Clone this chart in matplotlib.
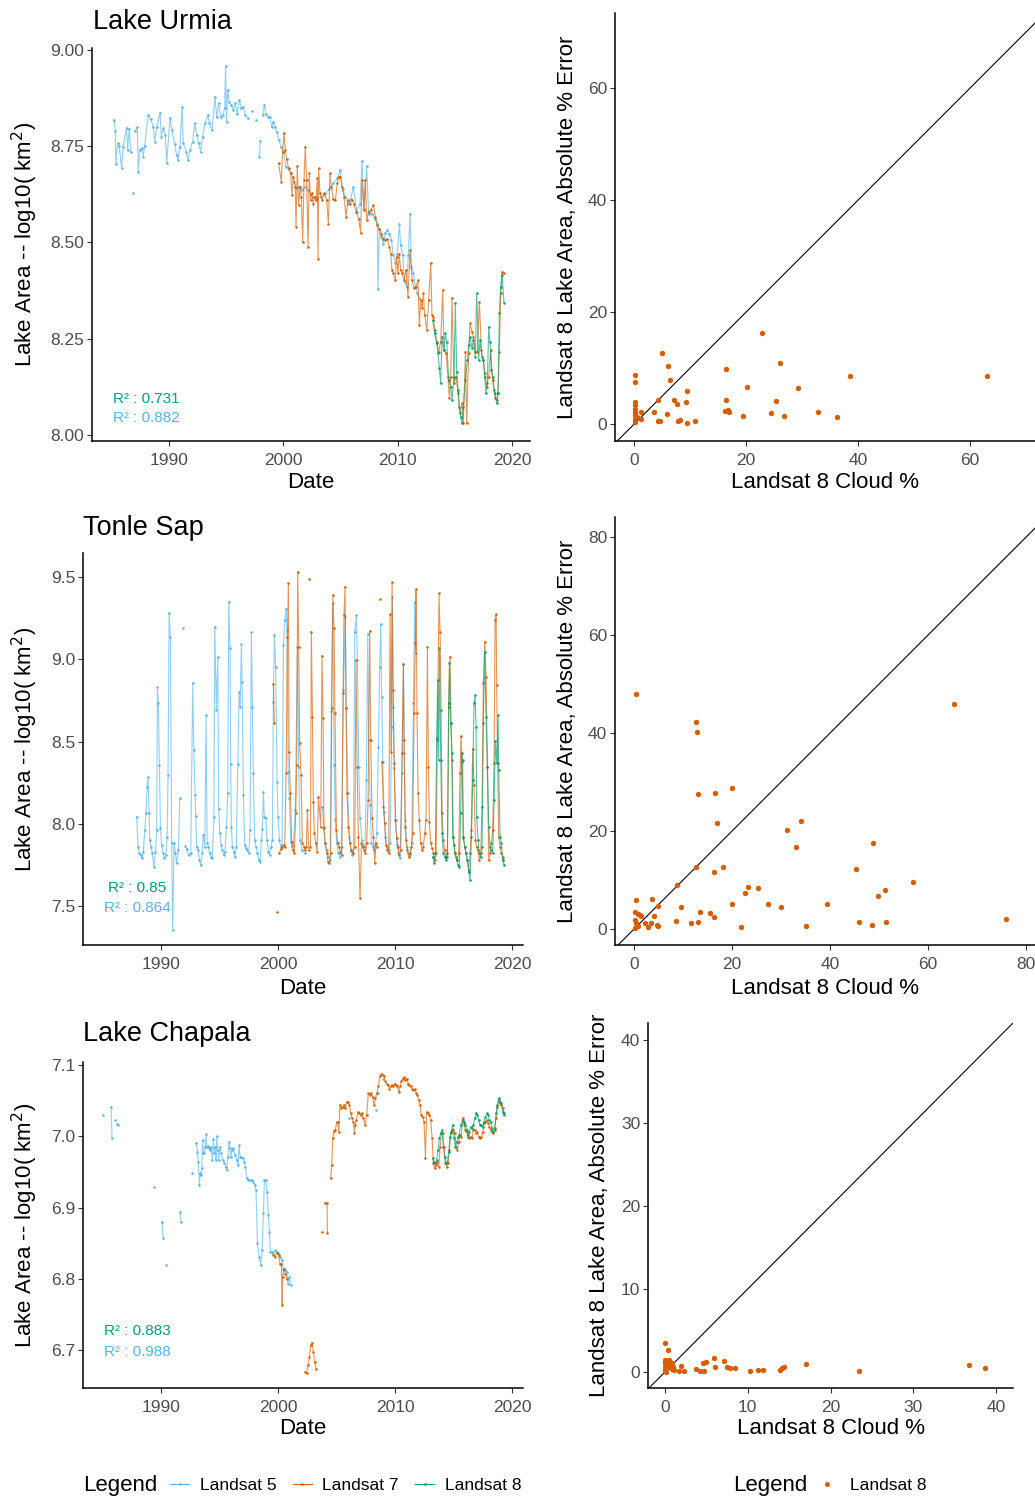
import numpy as np
import matplotlib.pyplot as plt
from matplotlib.lines import Line2D
from matplotlib.ticker import FormatStrFormatter

plt.rcParams['font.family'] = ['Liberation Sans', 'DejaVu Sans']

W, H = 1035, 1498
BLUE = '#56B4E9'
ORANGE = '#D55E00'
GREEN = '#009E73'
GAP = (np.nan, np.nan)

# ---- Lake Urmia, (year, log10 area) ----
urmia_l5 = [
    (1985.20, 8.818), (1985.30, 8.790), (1985.36, 8.704), (1985.50, 8.757), (1985.65, 8.750),
    (1985.86, 8.692), (1986.00, 8.749), (1986.30, 8.798), (1986.38, 8.740), (1986.53, 8.794),
    (1986.68, 8.736), GAP, (1986.88, 8.629), GAP, (1987.05, 8.790), (1987.23, 8.799),
    (1987.32, 8.684), (1987.46, 8.740), (1987.64, 8.744), (1987.75, 8.723), (1987.87, 8.750),
    (1988.19, 8.831), (1988.40, 8.820), (1988.63, 8.800), (1988.75, 8.762), (1988.92, 8.799),
    (1989.21, 8.837), (1989.33, 8.775), (1989.50, 8.796), (1989.68, 8.779), (1989.80, 8.707),
    (1990.09, 8.822), (1990.26, 8.792), (1990.50, 8.755), (1990.67, 8.727), (1990.79, 8.714),
    (1990.96, 8.749), (1991.14, 8.852), (1991.25, 8.757), (1991.49, 8.736), (1991.66, 8.714),
    (1991.84, 8.740), (1992.07, 8.762), (1992.25, 8.809), (1992.42, 8.779), (1992.60, 8.757),
    (1992.77, 8.736), (1992.94, 8.775), (1993.18, 8.811), (1993.41, 8.831), (1993.53, 8.811),
    (1993.76, 8.792), (1994.02, 8.878), (1994.17, 8.825), (1994.34, 8.861), (1994.52, 8.825),
    (1994.69, 8.831), (1994.87, 8.848), (1994.95, 8.958), (1995.04, 8.813), (1995.13, 8.896),
    (1995.28, 8.865), (1995.45, 8.857), (1995.63, 8.844), (1995.80, 8.861), (1995.98, 8.833),
    (1996.15, 8.871), (1996.33, 8.848), (1996.50, 8.852), (1996.68, 8.831), (1996.91, 8.822),
    GAP, (1997.23, 8.842), GAP, (1997.61, 8.818), GAP, (1997.90, 8.721), (1997.99, 8.764), GAP,
    (1998.19, 8.831), (1998.34, 8.857), (1998.48, 8.833), (1998.66, 8.826), (1998.83, 8.825),
    (1998.98, 8.799), (1999.12, 8.813), (1999.30, 8.799), (1999.42, 8.788), (1999.62, 8.766),
    (1999.82, 8.747), (2000.00, 8.736), (2000.23, 8.697), (2000.46, 8.690), (2000.70, 8.679),
    (2000.93, 8.658), (2001.16, 8.640), (2001.40, 8.645), (2001.63, 8.636), (2001.92, 8.645),
    (2002.16, 8.636), (2002.39, 8.626), (2002.62, 8.619), (2002.97, 8.614), (2003.32, 8.619),
    (2003.67, 8.626), (2004.02, 8.638), (2004.37, 8.653), (2004.72, 8.666), (2004.96, 8.688),
    (2005.19, 8.638), (2005.42, 8.619), (2005.66, 8.600), (2005.89, 8.612), (2006.12, 8.645),
    (2006.42, 8.580), (2006.71, 8.601), (2006.88, 8.712), (2007.06, 8.586), (2007.29, 8.698),
    (2007.46, 8.575), (2007.75, 8.575), (2007.99, 8.562), (2008.22, 8.548), (2008.28, 8.378),
    (2008.40, 8.536), (2008.57, 8.515), (2008.75, 8.496), (2008.92, 8.525), (2009.10, 8.532),
    (2009.27, 8.523), (2009.45, 8.506), (2009.62, 8.467), (2009.80, 8.447), (2009.97, 8.471),
    (2010.15, 8.548), (2010.26, 8.493), (2010.44, 8.467), (2010.61, 8.398), (2010.79, 8.385),
    (2010.93, 8.467), (2011.08, 8.575), (2011.20, 8.437), (2011.37, 8.420), (2011.55, 8.385),
    (2011.72, 8.368), (2011.90, 8.355)]

urmia_l7 = [
    (1999.59, 8.705), (1999.82, 8.658), (1999.94, 8.736), (2000.06, 8.785), (2000.17, 8.740),
    (2000.29, 8.716), (2000.46, 8.692), (2000.64, 8.679), (2000.76, 8.623), (2000.87, 8.671),
    (2001.05, 8.645), (2001.11, 8.541), (2001.22, 8.698), (2001.34, 8.597), (2001.46, 8.645),
    (2001.57, 8.619), (2001.69, 8.502), (2001.81, 8.662), (2001.92, 8.749), (2002.04, 8.662),
    (2002.16, 8.489), (2002.27, 8.679), (2002.39, 8.610), (2002.51, 8.627), (2002.62, 8.601),
    (2002.74, 8.619), (2002.86, 8.610), (2002.97, 8.666), (2003.03, 8.458), (2003.09, 8.692),
    (2003.21, 8.627), (2003.38, 8.610), (2003.56, 8.627), (2003.79, 8.610), (2003.94, 8.549),
    (2004.08, 8.679), (2004.20, 8.645), (2004.37, 8.614), (2004.55, 8.610), (2004.72, 8.653),
    (2004.84, 8.671), (2004.96, 8.671), (2005.13, 8.645), (2005.31, 8.619), (2005.48, 8.567),
    (2005.66, 8.610), (2005.83, 8.601), (2006.00, 8.610), (2006.18, 8.601), (2006.35, 8.580),
    (2006.59, 8.562), (2006.76, 8.525), (2006.88, 8.662), (2007.05, 8.584), (2007.17, 8.662),
    (2007.29, 8.558), (2007.46, 8.580), (2007.64, 8.584), (2007.87, 8.597), (2008.05, 8.567),
    (2008.22, 8.545), (2008.40, 8.536), (2008.57, 8.523), (2008.75, 8.510), (2008.92, 8.506),
    (2009.10, 8.508), (2009.27, 8.489), (2009.39, 8.471), (2009.50, 8.428), (2009.62, 8.420),
    (2009.80, 8.402), (2009.91, 8.463), (2010.03, 8.420), (2010.14, 8.471), (2010.26, 8.428),
    (2010.38, 8.420), (2010.55, 8.402), (2010.73, 8.428), (2010.90, 8.359), (2011.08, 8.480),
    (2011.25, 8.402), (2011.43, 8.381), (2011.60, 8.385), (2011.78, 8.402), (2011.89, 8.285),
    (2012.01, 8.350), (2012.13, 8.329), (2012.24, 8.368), (2012.36, 8.311), (2012.54, 8.272),
    (2012.71, 8.350), (2012.89, 8.447), (2013.00, 8.311), (2013.12, 8.307), (2013.24, 8.272),
    (2013.41, 8.242), (2013.59, 8.216), (2013.76, 8.242), (2013.94, 8.376), (2014.05, 8.220),
    (2014.23, 8.212), (2014.40, 8.151), (2014.52, 8.095), (2014.64, 8.151), (2014.75, 8.355),
    (2014.93, 8.134), (2015.10, 8.151), (2015.28, 8.108), (2015.45, 8.056), (2015.63, 8.082),
    (2015.74, 8.030), (2015.92, 8.216), (2016.03, 8.030), (2016.21, 8.212), (2016.33, 8.290),
    (2016.50, 8.268), (2016.62, 8.255), (2016.79, 8.216), (2016.97, 8.216), (2017.14, 8.346),
    (2017.32, 8.220), (2017.49, 8.194), (2017.61, 8.160), (2017.78, 8.125), (2017.96, 8.151),
    (2018.13, 8.220), (2018.31, 8.142), (2018.42, 8.116), (2018.54, 8.095), (2018.66, 8.090),
    (2018.77, 8.108), (2018.89, 8.216), (2019.01, 8.368), (2019.13, 8.424), (2019.30, 8.420)]

urmia_l8 = [
    (2013.06, 8.298), (2013.24, 8.264), (2013.41, 8.238), (2013.53, 8.212), (2013.64, 8.173),
    (2013.76, 8.134), (2013.88, 8.255), (2014.05, 8.220), (2014.17, 8.264), (2014.29, 8.242),
    (2014.46, 8.142), (2014.64, 8.125), (2014.75, 8.090), (2014.93, 8.151), (2015.04, 8.342),
    (2015.16, 8.164), (2015.28, 8.116), (2015.39, 8.073), (2015.51, 8.047), (2015.63, 8.030),
    (2015.74, 8.073), (2015.92, 8.142), (2016.09, 8.194), (2016.21, 8.233), (2016.33, 8.255),
    (2016.50, 8.225), (2016.62, 8.246), (2016.79, 8.203), (2016.91, 8.368), (2017.08, 8.194),
    (2017.20, 8.246), (2017.37, 8.203), (2017.49, 8.194), (2017.61, 8.151), (2017.72, 8.108),
    (2017.84, 8.134), (2017.96, 8.281), (2018.07, 8.242), (2018.19, 8.168), (2018.31, 8.151),
    (2018.48, 8.108), (2018.66, 8.082), (2018.77, 8.108), (2018.89, 8.316), (2019.01, 8.385),
    (2019.13, 8.415), (2019.30, 8.342)]

# ---- Tonle Sap ----
tonle_l5 = [
    (1987.92, 8.043), (1988.04, 7.861), (1988.15, 7.820), (1988.27, 7.810), (1988.38, 7.790),
    (1988.49, 7.830), (1988.61, 7.962), (1988.72, 8.063), (1988.81, 8.225), (1988.89, 8.282),
    (1988.98, 8.063), (1989.03, 7.901), (1989.15, 7.861), (1989.26, 7.820), (1989.38, 7.739),
    (1989.52, 7.830), (1989.63, 7.962), (1989.69, 8.829), (1989.77, 8.732), (1989.86, 8.357),
    (1989.95, 7.972), (1990.06, 7.871), (1990.17, 7.820), (1990.29, 7.790), (1990.40, 7.810),
    (1990.52, 7.921), (1990.60, 8.296), (1990.69, 9.279), (1990.80, 9.133), (1990.91, 7.881),
    (1991.00, 7.354), (1991.11, 7.881), (1991.23, 7.820), (1991.34, 7.759), (1991.48, 7.840),
    (1991.60, 8.154), GAP, (1991.88, 9.188), GAP, (1992.08, 7.865), (1992.20, 7.844),
    (1992.37, 7.810), (1992.54, 7.820), (1992.71, 8.857), (1992.80, 8.448), (1992.91, 8.175),
    (1992.97, 8.047), (1993.05, 7.861), (1993.17, 7.840), (1993.28, 7.780), (1993.39, 7.749),
    (1993.51, 7.820), (1993.62, 7.932), (1993.74, 7.861), (1993.85, 8.661), (1993.94, 7.881),
    (1994.05, 7.861), (1994.16, 7.820), (1994.28, 7.800), (1994.39, 7.790), (1994.52, 8.043),
    (1994.59, 9.198), (1994.73, 8.691), (1994.85, 9.011), (1994.93, 8.088), (1995.02, 7.942),
    (1995.13, 7.871), (1995.25, 7.840), (1995.36, 7.810), (1995.47, 7.830), (1995.59, 7.982),
    (1995.70, 8.185), (1995.79, 9.350), (1995.90, 9.066), (1995.96, 8.363), (1996.01, 7.982),
    (1996.10, 7.861), (1996.21, 7.830), (1996.33, 7.800), (1996.44, 7.861), (1996.56, 8.363),
    (1996.67, 8.803), (1996.76, 8.712), (1996.87, 9.090), (1996.93, 8.863), (1997.04, 8.175),
    (1997.15, 7.871), (1997.27, 7.851), (1997.38, 7.840), (1997.50, 7.820), (1997.61, 7.962),
    (1997.72, 9.163), (1997.81, 8.712), (1997.89, 8.306), (1998.01, 7.901), (1998.12, 7.861),
    (1998.24, 7.820), (1998.35, 7.780), (1998.46, 7.769), (1998.58, 7.901), (1998.66, 7.966),
    (1998.75, 8.195), (1998.83, 8.043), (1998.95, 8.033), (1999.06, 7.901), (1999.18, 7.830),
    (1999.29, 7.810), (1999.40, 7.861), (1999.52, 7.901), (1999.60, 8.742), (1999.69, 9.147),
    (1999.80, 8.955), (1999.92, 8.256), (2000.00, 8.043), (2000.12, 7.901), (2000.23, 7.861),
    (2000.35, 7.871), (2000.46, 9.086), (2000.57, 9.238), (2000.69, 9.305), (2000.77, 9.178),
    (2000.86, 8.316), (2000.97, 8.154), (2001.09, 7.891), (2001.20, 7.861), (2001.31, 7.871),
    (2001.48, 8.084), (2001.66, 9.076), (2001.77, 8.347), (2001.88, 7.901), (2002.05, 7.840),
    (2002.28, 7.820), GAP, (2003.79, 8.104), (2003.91, 7.982), (2004.02, 7.881), (2004.16, 7.840),
    (2004.31, 7.800), (2004.45, 7.780), (2004.56, 8.687), (2004.68, 9.340), (2004.79, 8.357),
    (2004.90, 8.023), (2005.02, 7.881), (2005.16, 7.820), (2005.30, 7.800), (2005.45, 7.861),
    (2005.59, 8.813), (2005.76, 9.255), (2005.84, 8.701), (2005.96, 8.185), (2006.10, 7.921),
    (2006.21, 7.840), (2006.33, 7.810), (2006.44, 7.820), (2006.56, 9.167), (2006.70, 9.269),
    (2006.78, 8.995), (2006.90, 8.347), (2007.01, 8.033), (2007.18, 7.901), (2007.30, 7.871),
    (2007.44, 7.861), (2007.55, 8.266), (2007.67, 9.153), (2007.75, 8.509), (2007.87, 8.114),
    (2007.98, 7.881), (2008.09, 7.861), (2008.21, 7.840), (2008.32, 7.871), (2008.44, 7.942),
    (2008.58, 8.468), (2008.69, 8.955), (2008.78, 9.214), (2008.86, 8.772), (2008.95, 8.377),
    (2009.06, 8.073), (2009.18, 7.921), (2009.29, 7.861), (2009.46, 7.840), (2009.58, 7.881),
    (2009.72, 8.590), (2009.78, 9.380), (2009.86, 8.712), (2009.95, 8.337), (2010.06, 8.023),
    (2010.17, 7.871), (2010.29, 7.820), (2010.43, 7.790), (2010.60, 8.306), (2010.72, 8.969),
    (2010.80, 8.428), (2010.89, 8.023), (2011.00, 7.861), (2011.14, 7.820), (2011.29, 7.810),
    (2011.43, 7.881), (2011.57, 8.732), (2011.68, 9.348), (2011.77, 9.036)]

tonle_l7 = [
    (1999.60, 8.849), (1999.69, 8.610), GAP, (1999.95, 7.462), GAP,
    (2000.12, 7.824), (2000.23, 7.844), (2000.35, 7.861), (2000.52, 7.871), (2000.57, 7.861),
    (2000.69, 8.306), (2000.80, 9.133), (2000.89, 9.465), (2000.94, 8.438), (2001.06, 8.185),
    (2001.17, 7.891), (2001.29, 7.840), (2001.40, 7.820), (2001.51, 8.063), (2001.60, 8.357),
    (2001.68, 9.532), (2001.77, 9.076), (2001.85, 8.489), (2001.97, 8.296), (2002.08, 7.881),
    (2002.20, 7.861), (2002.31, 7.840), (2002.42, 7.861), (2002.51, 8.084), (2002.62, 7.840),
    GAP, (2002.68, 9.485), GAP,
    (2002.77, 7.861), (2002.85, 9.167), (2002.94, 8.651), (2003.02, 8.134), (2003.11, 7.942),
    (2003.22, 7.881), (2003.34, 7.830), (2003.45, 8.165), (2003.65, 7.982), (2003.76, 9.022),
    (2003.85, 8.641), (2003.93, 7.972), (2004.05, 7.881), (2004.16, 7.820), (2004.28, 7.769),
    (2004.39, 7.759), (2004.50, 7.820), (2004.59, 8.701), (2004.68, 9.390), (2004.79, 9.188),
    (2004.87, 8.671), (2004.99, 7.962), (2005.10, 7.881), (2005.22, 7.861), (2005.33, 7.830),
    (2005.44, 7.810), (2005.56, 8.792), (2005.64, 9.269), (2005.73, 9.441), (2005.81, 8.701),
    (2005.90, 8.185), (2006.01, 7.982), (2006.15, 7.881), (2006.27, 7.840), (2006.38, 7.820),
    (2006.56, 7.861), (2006.67, 8.995), (2006.76, 8.347), (2006.87, 7.921), (2007.01, 7.547),
    (2007.13, 7.881), (2007.24, 7.861), (2007.35, 7.840), (2007.47, 7.820), (2007.58, 7.881),
    (2007.70, 8.144), (2007.84, 9.173), (2007.92, 8.509), (2008.04, 8.033), (2008.15, 7.921),
    (2008.27, 7.759), (2008.38, 7.881), (2008.49, 7.861), GAP, (2008.75, 9.366), GAP,
    (2008.89, 8.377), (2009.01, 8.104), (2009.12, 8.002), (2009.23, 7.871), (2009.35, 7.840),
    (2009.46, 7.820), (2009.58, 9.273), (2009.66, 8.438), (2009.75, 9.467), (2009.83, 8.813),
    (2009.92, 8.367), (2010.03, 8.023), (2010.15, 7.911), (2010.26, 7.861), (2010.37, 7.810),
    (2010.49, 7.840), (2010.60, 8.428), (2010.72, 8.969), (2010.77, 8.509), (2010.86, 7.982),
    (2010.94, 7.901), (2011.06, 7.840), (2011.17, 7.800), (2011.29, 7.820), (2011.40, 7.861),
    (2011.51, 7.942), (2011.63, 8.671), (2011.74, 9.096), (2011.80, 9.425), (2011.88, 8.671),
    (2011.97, 8.185), (2012.08, 8.023), (2012.20, 7.881), (2012.31, 7.840), (2012.42, 7.861),
    (2012.54, 7.942), (2012.65, 8.023), (2012.77, 9.072), (2012.85, 8.347), (2012.94, 8.013),
    (2013.05, 7.881), (2013.17, 7.851), (2013.28, 7.820), (2013.39, 7.780), (2013.51, 7.820),
    (2013.62, 8.509), (2013.76, 9.400), (2013.85, 9.167), (2013.94, 8.691), (2014.02, 8.063),
    (2014.13, 7.901), (2014.25, 7.840), (2014.36, 7.800), (2014.48, 7.820), (2014.59, 8.712),
    (2014.70, 9.015), (2014.79, 8.610), (2014.87, 8.387), (2014.99, 7.921), (2015.10, 7.820),
    (2015.22, 7.800), (2015.33, 7.780), (2015.44, 7.820), (2015.56, 8.306), (2015.64, 8.533),
    (2015.73, 8.377), (2015.84, 7.911), (2015.96, 7.861), (2016.07, 7.820), (2016.19, 7.780),
    (2016.30, 7.719), (2016.41, 7.820), (2016.53, 7.962), (2016.64, 8.456), (2016.75, 8.235),
    (2016.87, 7.901), (2016.98, 7.861), (2017.10, 7.840), (2017.21, 7.780), (2017.33, 7.820),
    (2017.44, 8.104), (2017.55, 8.853), (2017.67, 9.107), (2017.78, 8.894), (2017.90, 8.347),
    (2018.01, 7.780), (2018.12, 7.820), (2018.24, 7.881), (2018.35, 7.962), (2018.47, 8.371),
    (2018.55, 9.238), (2018.64, 9.273), (2018.69, 8.843), (2018.78, 8.367), (2018.86, 7.921),
    (2018.98, 7.861), (2019.09, 7.820), (2019.21, 7.800), (2019.26, 7.780)]

tonle_l8 = [
    (2013.22, 7.800), (2013.34, 7.759), (2013.45, 7.820), (2013.56, 8.519), (2013.65, 8.874),
    (2013.74, 8.387), (2013.79, 9.066), (2013.91, 8.387), (2014.02, 7.942), (2014.13, 7.820),
    (2014.25, 7.800), (2014.36, 7.780), (2014.48, 7.800), (2014.59, 8.732), (2014.65, 8.975),
    (2014.76, 8.610), (2014.87, 8.428), (2014.93, 7.921), (2015.05, 7.871), (2015.16, 7.820),
    (2015.27, 7.780), (2015.39, 7.749), (2015.50, 7.739), (2015.61, 8.063), (2015.70, 8.432),
    (2015.78, 8.387), (2015.84, 7.921), (2015.96, 7.861), (2016.07, 7.820), (2016.19, 7.780),
    (2016.30, 7.709), (2016.41, 7.658), (2016.53, 7.921), (2016.64, 8.266), (2016.75, 8.732),
    (2016.84, 8.782), (2016.93, 8.590), (2016.98, 8.043), (2017.10, 7.901), (2017.21, 7.820),
    (2017.33, 7.800), (2017.44, 7.861), (2017.55, 8.610), (2017.67, 9.046), (2017.78, 8.651),
    (2017.90, 8.347), (2018.01, 7.982), (2018.12, 7.861), (2018.24, 7.840), (2018.35, 7.820),
    (2018.47, 8.144), (2018.58, 8.505), (2018.69, 8.367), (2018.81, 8.661), (2018.86, 8.327),
    (2018.98, 7.921), (2019.09, 7.881), (2019.21, 7.780), (2019.32, 7.749)]

# ---- Lake Chapala ----
chapala_l5 = [
    (1985.02, 7.030), GAP, (1985.73, 7.041), (1985.81, 6.997), GAP, (1986.04, 7.023), GAP,
    (1986.21, 7.017), (1986.30, 7.016), GAP, (1989.38, 6.929), GAP, (1990.06, 6.879),
    (1990.20, 6.857), GAP, (1990.40, 6.819), GAP, (1991.63, 6.893), (1991.71, 6.879), GAP,
    (1992.68, 6.948), GAP,
    (1993.02, 6.991), (1993.11, 6.978), (1993.19, 6.964), (1993.28, 6.931), (1993.34, 6.948),
    (1993.39, 6.945), (1993.48, 6.955), (1993.56, 6.995), (1993.62, 6.976), (1993.71, 6.976),
    (1993.79, 6.985), (1993.85, 7.003), (1993.91, 6.985), (1993.99, 6.986), (1994.08, 6.984),
    (1994.19, 6.981), (1994.28, 6.985), (1994.39, 6.967), (1994.48, 6.996), (1994.56, 6.976),
    (1994.65, 6.985), (1994.70, 6.967), (1994.76, 7.000), (1994.85, 6.981), (1994.93, 6.967),
    (1995.05, 6.985), (1995.16, 6.976), (1995.27, 6.967), (1995.42, 6.962), (1995.53, 6.957),
    (1995.62, 6.953), (1995.70, 6.971), (1995.79, 6.992), (1995.87, 6.983), (1995.96, 6.971),
    (1996.07, 6.981), (1996.19, 6.983), (1996.33, 6.974), (1996.47, 6.967), (1996.58, 6.960),
    (1996.67, 6.988), (1996.76, 6.971), (1996.87, 6.971), (1996.98, 6.969), (1997.10, 6.964),
    (1997.21, 6.957), (1997.33, 6.941), (1997.47, 6.939), (1997.61, 6.938), (1997.75, 6.938),
    (1997.89, 6.936), (1998.01, 6.931), (1998.12, 6.924), (1998.24, 6.850), (1998.38, 6.831),
    (1998.52, 6.819), (1998.64, 6.840), (1998.75, 6.892), (1998.84, 6.939), (1998.95, 6.938),
    (1999.06, 6.922), (1999.18, 6.889), (1999.26, 6.866), (1999.35, 6.838), (1999.46, 6.838),
    (1999.60, 6.836), (1999.75, 6.840), (1999.89, 6.838), (2000.03, 6.836), (2000.17, 6.831),
    (2000.32, 6.826), (2000.46, 6.814), (2000.60, 6.812), (2000.74, 6.810), (2000.86, 6.793),
    (2000.97, 6.803), (2001.09, 6.791), GAP,
    (2006.04, 7.025), GAP, (2008.38, 7.037), GAP, (2008.52, 7.061), GAP, (2009.01, 7.081), GAP,
    (2011.14, 7.074)]

chapala_l7 = [
    (1999.60, 6.833), (1999.75, 6.831), (1999.89, 6.836), (2000.06, 6.833), (2000.17, 6.821),
    (2000.29, 6.821), (2000.35, 6.763), (2000.40, 6.803), (2000.52, 6.814), (2000.63, 6.807),
    (2000.74, 6.800), GAP,
    (2002.31, 6.669), (2002.45, 6.668), (2002.57, 6.679), (2002.68, 6.690), (2002.80, 6.707),
    (2002.91, 6.710), (2003.02, 6.697), (2003.14, 6.683), (2003.25, 6.673), GAP,
    (2003.76, 6.865), GAP, (2004.02, 6.907), (2004.19, 6.906), (2004.22, 6.864), GAP,
    (2004.50, 6.941), (2004.59, 6.960), (2004.68, 6.997), (2004.79, 7.008), (2004.90, 7.009),
    (2005.02, 7.020), (2005.10, 7.020), (2005.19, 7.006), (2005.30, 7.044), (2005.42, 7.039),
    (2005.53, 7.041), (2005.64, 7.044), (2005.76, 7.039), (2005.87, 7.048), (2005.99, 7.048),
    (2006.10, 7.044), (2006.21, 7.032), (2006.33, 7.025), (2006.44, 7.020), (2006.53, 7.005),
    (2006.61, 7.016), (2006.70, 7.023), (2006.84, 7.034), (2006.96, 7.032), (2007.07, 7.030),
    (2007.18, 7.032), (2007.30, 7.025), (2007.44, 7.016), (2007.58, 7.030), (2007.72, 7.060),
    (2007.87, 7.058), (2007.98, 7.060), (2008.09, 7.055), (2008.21, 7.044), (2008.32, 7.053),
    (2008.44, 7.060), (2008.58, 7.070), (2008.72, 7.084), (2008.83, 7.087), (2008.95, 7.086),
    (2009.06, 7.084), (2009.18, 7.077), (2009.29, 7.074), (2009.40, 7.072), (2009.52, 7.067),
    (2009.63, 7.070), (2009.75, 7.072), (2009.86, 7.070), (2009.97, 7.074), (2010.09, 7.072),
    (2010.20, 7.070), (2010.32, 7.062), (2010.43, 7.070), (2010.54, 7.077), (2010.66, 7.081),
    (2010.77, 7.083), (2010.89, 7.079), (2011.00, 7.081), (2011.12, 7.074), (2011.23, 7.072),
    (2011.34, 7.070), (2011.46, 7.067), (2011.57, 7.065), (2011.68, 7.066), (2011.80, 7.061),
    (2011.91, 7.058), (2012.03, 7.051), (2012.14, 7.044), (2012.25, 7.030), (2012.37, 7.027),
    (2012.48, 7.020), (2012.60, 6.970), (2012.71, 7.034), (2012.82, 7.033), (2012.94, 7.030),
    (2013.05, 7.023), (2013.17, 6.997), (2013.28, 6.962), (2013.39, 6.955), (2013.51, 6.960),
    (2013.62, 6.964), (2013.74, 6.957), (2013.85, 6.985), (2013.96, 7.004), (2014.08, 7.004),
    (2014.19, 6.985), (2014.31, 6.962), (2014.42, 6.957), (2014.53, 6.962), (2014.65, 6.981),
    (2014.76, 7.004), (2014.87, 7.009), (2014.99, 7.009), (2015.10, 7.004), (2015.22, 6.985),
    (2015.33, 6.981), (2015.44, 6.992), (2015.56, 7.002), (2015.67, 6.999), (2015.78, 7.025),
    (2015.90, 7.018), (2016.01, 7.009), (2016.13, 7.006), (2016.24, 7.002), (2016.36, 6.997),
    (2016.47, 6.999), (2016.58, 6.997), (2016.70, 7.009), (2016.81, 7.009), (2016.93, 7.004),
    (2017.04, 7.006), (2017.15, 6.999), (2017.27, 6.997), (2017.38, 6.999), (2017.50, 7.006),
    (2017.61, 7.018), (2017.72, 7.020), (2017.84, 7.023), (2017.95, 7.018), (2018.07, 7.013),
    (2018.18, 7.009), (2018.29, 7.006), (2018.41, 7.004), (2018.52, 7.011), (2018.64, 7.025),
    (2018.75, 7.041), (2018.86, 7.051), (2018.98, 7.046), (2019.09, 7.044), (2019.21, 7.039),
    (2019.32, 7.032)]

chapala_l8 = [
    (2013.22, 6.969), (2013.34, 6.964), (2013.45, 6.962), (2013.56, 6.967), (2013.68, 6.981),
    (2013.79, 6.997), (2013.91, 7.004), (2014.02, 7.009), (2014.13, 6.985), (2014.25, 6.971),
    (2014.36, 6.962), (2014.48, 6.964), (2014.59, 6.978), (2014.70, 6.999), (2014.82, 7.006),
    (2014.93, 7.016), (2015.05, 6.997), (2015.16, 6.985), (2015.27, 6.992), (2015.39, 6.999),
    (2015.50, 7.002), (2015.61, 7.016), (2015.78, 7.023), (2015.90, 7.020), (2016.01, 7.016),
    (2016.13, 7.009), (2016.24, 6.999), (2016.36, 7.006), (2016.47, 7.013), (2016.58, 7.011),
    (2016.70, 7.016), (2016.81, 7.025), (2016.93, 7.033), (2017.04, 7.030), (2017.15, 7.023),
    (2017.27, 7.016), (2017.38, 7.016), (2017.50, 7.013), (2017.61, 7.020), (2017.72, 7.027),
    (2017.84, 7.032), (2017.95, 7.030), (2018.07, 7.023), (2018.18, 7.020), (2018.29, 7.011),
    (2018.41, 7.006), (2018.52, 7.009), (2018.64, 7.032), (2018.75, 7.044), (2018.86, 7.053),
    (2018.98, 7.048), (2019.09, 7.046), (2019.21, 7.034), (2019.32, 7.030)]

# ---- Landsat 8 cloud % vs absolute % error ----
urmia_cloud = [0.1, 0.1, 0.1, 0.1, 0.1, 0.1, 0.1, 0.1, 0.1, 0.5, 1.2, 1.2, 3.5, 4.3, 4.3,
               4.6, 5.0, 5.8, 6.0, 6.4, 7.1, 7.6, 7.9, 8.2, 9.2, 9.5, 9.5, 10.8, 16.4, 16.5,
               16.3, 16.7, 17.0, 19.4, 20.2, 22.8, 24.5, 25.4, 26.1, 26.8, 29.3, 32.9, 36.2,
               38.5, 63.1]
urmia_err = [8.7, 7.5, 4.0, 3.4, 2.8, 2.2, 1.6, 1.0, 0.4, 1.2, 2.2, 1.0, 2.2, 4.3, 0.6,
             0.65, 12.7, 1.9, 10.4, 7.9, 4.3, 3.6, 0.6, 0.7, 4.0, 6.0, 0.3, 0.6, 9.8, 4.4,
             2.3, 2.6, 2.1, 1.4, 6.7, 16.2, 2.0, 4.2, 10.9, 1.4, 6.4, 2.1, 1.2, 8.6, 8.6]

tonle_cloud = [0.3, 12.7, 12.8, 65.2, 13.1, 16.5, 19.9, 16.9, 34.1, 31.1, 33.1, 48.8, 12.7,
               16.3, 18.2, 45.2, 8.7, 56.9, 0.3, 3.7, 4.8, 9.6, 0.1, 0.7, 1.2, 1.5, 4.0,
               0.1, 0.4, 0.7, 0.1, 2.2, 2.9, 3.5, 4.6, 4.9, 8.6, 13.5, 15.5, 16.3, 11.7,
               13.1, 19.9, 21.8, 22.7, 23.3, 25.3, 27.3, 29.9, 35.1, 39.3, 45.8, 48.6, 51.4,
               49.8, 51.1, 75.9]
tonle_err = [47.9, 42.2, 40.3, 45.9, 27.6, 27.8, 28.7, 21.7, 22.1, 20.1, 16.7, 17.5, 12.6,
             11.7, 12.7, 12.2, 8.9, 9.6, 6.0, 6.1, 4.6, 4.4, 3.4, 3.0, 2.8, 2.7, 2.7, 1.9,
             1.2, 0.7, 0.1, 1.2, 0.5, 1.2, 0.75, 0.7, 1.6, 3.5, 3.2, 2.5, 1.3, 1.4, 5.1,
             0.5, 7.35, 8.5, 8.4, 5.1, 4.4, 0.7, 5.0, 1.4, 0.8, 1.4, 6.8, 8.0, 2.0]

chapala_cloud = [0.0, 0.4, 0.0, 0.0, 0.0, 0.0, 0.2, 0.2, 0.5, 0.5, 0.8, 0.8, 1.0, 1.1, 1.9,
                 1.7, 2.3, 3.8, 4.2, 4.6, 4.7, 5.0, 5.9, 6.1, 7.1, 7.5, 7.8, 8.5, 10.3, 11.3,
                 11.8, 13.9, 14.1, 14.4, 17.1, 23.5, 36.7, 38.7, 0.3, 0.6, 0.1]
chapala_err = [3.45, 2.65, 1.45, 1.04, 0.64, 0.24, 1.24, 0.44, 1.45, 0.84, 1.04, 0.32, 0.64,
               0.24, 0.76, 0.16, 0.16, 0.36, 0.16, 1.12, 0.16, 1.24, 1.72, 0.56, 1.33, 0.64,
               0.52, 0.52, 0.12, 0.24, 0.24, 0.24, 0.52, 0.56, 0.96, 0.08, 0.88, 0.44, 0.9,
               1.2, 0.05]

lake_names = ['Lake Urmia', 'Tonle Sap', 'Lake Chapala']
r2_l8 = ['0.731', '0.85', '0.883']
r2_l5 = ['0.882', '0.864', '0.988']
sensor_labels = ['Landsat 5', 'Landsat 7', 'Landsat 8']


def rect(l, t, r, b):
    return [l / W, 1 - b / H, (r - l) / W, (b - t) / H]


def fx(x):
    return x / W


def fy(y):
    return 1 - y / H


def style(ax):
    for s in ['top', 'right']:
        ax.spines[s].set_visible(False)
    for s in ['left', 'bottom']:
        ax.spines[s].set_linewidth(1.1)
        ax.spines[s].set_color('black')
    ax.tick_params(length=3.6, width=0.8, color='#333333', labelcolor='#4D4D4D',
                   labelsize=12.5, pad=2)
    ax.tick_params(axis='x', pad=5)


def series(ax, data, color):
    yr, val = np.array(data, dtype=float).T
    ax.plot(yr, val, color=color, lw=0.8, alpha=0.65)
    ax.plot(yr, val, 'o', color=color, ms=1.8, mew=0)


fig = plt.figure(figsize=(W / 100, H / 100), dpi=100)

left_boxes = [(92, 48, 530, 441), (83, 553, 523, 945), (83, 1062, 523, 1388)]
left_xlim = [(1983.27, 2021.57), (1983.33, 2020.94), (1983.33, 2020.94)]
left_ylim = [(7.984, 9.005), (7.263, 9.646), (6.6467, 7.1042)]
left_yticks = [[8.00, 8.25, 8.50, 8.75, 9.00], [7.5, 8.0, 8.5, 9.0, 9.5], [6.7, 6.8, 6.9, 7.0, 7.1]]
left_fmt = ['%.2f', '%.1f', '%.1f']
left_data = [(urmia_l5, urmia_l7, urmia_l8), (tonle_l5, tonle_l7, tonle_l8),
             (chapala_l5, chapala_l7, chapala_l8)]
title_pos = [(93, 22), (83, 528), (83, 1034)]
date_y = [483, 988, 1428]
r2_pos = [(146, 399, 418), (137, 888, 908), (137, 1331, 1352)]

right_boxes = [(615, 13, 1035, 441), (615, 517, 1035, 945), (648, 1023, 1013, 1388)]
right_xlim = [(-3.4, 71.6), (-3.9, 81.8), (-2.05, 42.05)]
right_ylim = [(-3.0, 73.4), (-3.27, 84.08), (-1.93, 42.05)]
right_ticks = [[0, 20, 40, 60], [0, 20, 40, 60, 80], [0, 10, 20, 30, 40]]
right_data = [(urmia_cloud, urmia_err), (tonle_cloud, tonle_err), (chapala_cloud, chapala_err)]
right_ylab_x = [568, 568, 600]

for i in range(3):
    l, t, r, b = left_boxes[i]
    ax = fig.add_axes(rect(l, t, r, b))
    for data, c in zip(left_data[i], [BLUE, ORANGE, GREEN]):
        series(ax, data, c)
    ax.set_xlim(*left_xlim[i])
    ax.set_ylim(*left_ylim[i])
    ax.set_xticks([1990, 2000, 2010, 2020])
    ax.set_yticks(left_yticks[i])
    ax.yaxis.set_major_formatter(FormatStrFormatter(left_fmt[i]))
    style(ax)
    tx, ty = title_pos[i]
    fig.text(fx(tx), fy(ty), lake_names[i], fontsize=19.5, ha='left', va='center')
    fig.text(fx(25), fy((t + b) / 2), 'Lake Area -- log10( km$^2$)', rotation=90,
             fontsize=16, ha='center', va='center')
    fig.text(fx((l + r) / 2), fy(date_y[i]), 'Date', fontsize=16, ha='center', va='center')
    rx, ry1, ry2 = r2_pos[i]
    fig.text(fx(rx), fy(ry1), 'R² : ' + r2_l8[i], color=GREEN, fontsize=11,
             ha='center', va='center')
    fig.text(fx(rx), fy(ry2), 'R² : ' + r2_l5[i], color=BLUE, fontsize=11,
             ha='center', va='center')

    l, t, r, b = right_boxes[i]
    ax = fig.add_axes(rect(l, t, r, b))
    cloud, err = right_data[i]
    ax.plot([-10, 100], [-10, 100], color='black', lw=0.8)
    ax.scatter(cloud, err, s=15, color=ORANGE, linewidths=0, zorder=3)
    ax.set_xlim(*right_xlim[i])
    ax.set_ylim(*right_ylim[i])
    ax.set_xticks(right_ticks[i])
    ax.set_yticks(right_ticks[i])
    style(ax)
    fig.text(fx(right_ylab_x[i]), fy((t + b) / 2), 'Landsat 8 Lake Area, Absolute % Error',
             rotation=90, fontsize=16, ha='center', va='center')
    fig.text(fx((l + r) / 2), fy(date_y[i]), 'Landsat 8 Cloud %', fontsize=16,
             ha='center', va='center')

# legends
fig.text(fx(83), fy(1485), 'Legend', fontsize=16, ha='left', va='center')
handles = [Line2D([], [], color=c, lw=0.8, marker='o', ms=1.8, mew=0)
           for c in [BLUE, ORANGE, GREEN]]
fig.legend(handles, sensor_labels, loc='center left', bbox_to_anchor=(fx(170), fy(1485)),
           ncol=3, frameon=False, fontsize=12.5, handlelength=1.1, handletextpad=0.6,
           columnspacing=0.95, borderpad=0, borderaxespad=0)

fig.text(fx(733), fy(1485), 'Legend', fontsize=16, ha='left', va='center')
fig.legend([Line2D([], [], ls='none', marker='o', ms=3.6, color=ORANGE, mew=0)],
           ['Landsat 8'], loc='center left', bbox_to_anchor=(fx(820), fy(1485)),
           frameon=False, fontsize=12.5, handlelength=0.8, handletextpad=0.9,
           borderpad=0, borderaxespad=0)

fig.savefig('out.png', dpi=100)
